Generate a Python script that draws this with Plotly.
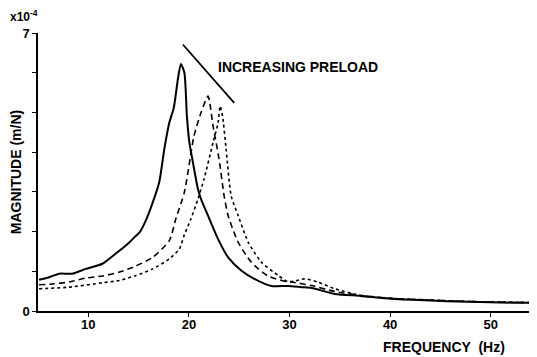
import plotly.graph_objects as go

# Frequency (Hz) and magnitude (x1e-4 m/N) for three preload levels
freq_low = [5.1, 6.1, 7.1, 8.4, 9.75, 11.4, 12.7, 13.4, 14.1, 14.6, 15.1, 15.7, 16.4, 17.05, 17.55,
            18.05, 18.5, 18.9, 19.2, 19.55, 19.8, 20.05, 20.4, 20.9, 21.2, 21.9, 22.9, 23.9, 25.2,
            26.5, 28.2, 29.85, 31.2, 32.2, 34.5, 37.1, 40.1, 43.4, 47.8, 52.1, 54.6]
mag_low = [0.785, 0.85, 0.94, 0.94, 1.06, 1.19, 1.44, 1.58, 1.73, 1.86, 1.98, 2.27, 2.73, 3.24, 4.07,
           4.74, 5.12, 5.83, 6.22, 6.0, 4.9, 4.24, 3.74, 3.07, 2.82, 2.4, 1.81, 1.35, 1.02,
           0.81, 0.63, 0.63, 0.60, 0.58, 0.43, 0.38, 0.31, 0.27, 0.23, 0.21, 0.21]

freq_mid = [5.1, 6.4, 8.1, 9.75, 11.4, 13.1, 14.7, 16.4, 18.05, 18.7, 19.55, 20.5, 21.2, 21.9, 22.4,
            23.0, 23.5, 23.9, 24.9, 26.2, 27.8, 29.5, 30.2, 32.2, 34.5, 37.1, 40.1, 43.4, 47.8, 52.1, 54.6]
mag_mid = [0.66, 0.68, 0.73, 0.83, 0.88, 0.98, 1.13, 1.35, 1.77, 2.32, 2.99, 4.4, 4.99, 5.41, 4.66,
           3.82, 2.9, 2.4, 1.73, 1.23, 0.89, 0.75, 0.73, 0.64, 0.49, 0.39, 0.32, 0.28, 0.24, 0.22, 0.21]

freq_high = [5.1, 8.1, 11.4, 13.1, 14.7, 16.4, 18.05, 19.05, 19.55, 20.2, 20.9, 21.5, 22.4, 22.9, 23.1,
             23.35, 23.7, 24.2, 24.9, 25.9, 27.2, 28.9, 29.8, 30.5, 31.5, 32.8, 34.5, 37.1, 40.1,
             43.4, 47.8, 52.1, 54.6]
mag_high = [0.56, 0.6, 0.71, 0.77, 0.89, 1.06, 1.31, 1.56, 1.92, 2.32, 2.82, 3.32, 4.24, 4.74, 5.16,
            4.9, 4.07, 2.9, 2.4, 1.73, 1.23, 0.89, 0.74, 0.75, 0.81, 0.73, 0.56, 0.39, 0.32,
            0.28, 0.24, 0.22, 0.21]

y_tickvals = [0, 1, 2, 3, 4, 5, 6, 7]
y_ticktext = ["<b>0</b>", "", "", "", "", "", "", "<b>7</b>"]
x_tickvals = [10, 20, 30, 40, 50]
x_ticktext = ["<b>10</b>", "<b>20</b>", "<b>30</b>", "<b>40</b>", "<b>50</b>"]

FONT = "Liberation Sans, Arial, sans-serif"

fig = go.Figure()
fig.add_trace(go.Scatter(x=freq_low, y=mag_low, mode="lines",
                         line=dict(color="black", width=2, shape="spline", smoothing=0.6)))
fig.add_trace(go.Scatter(x=freq_mid, y=mag_mid, mode="lines",
                         line=dict(color="black", width=1.6, dash="6px,4px", shape="spline", smoothing=0.6)))
fig.add_trace(go.Scatter(x=freq_high, y=mag_high, mode="lines",
                         line=dict(color="black", width=1.6, dash="dot", shape="spline", smoothing=0.6)))

# "Increasing preload" line and label
fig.add_shape(type="line", x0=19.4, y0=6.71, x1=24.5, y1=5.24,
              line=dict(color="black", width=1.8))
fig.add_annotation(x=22.7, y=6.15, text="<b>INCREASING PRELOAD</b>", showarrow=False,
                   xanchor="left", yanchor="middle", font=dict(size=14, color="black", family=FONT))

fig.add_annotation(xref="paper", yref="paper", x=-0.06, y=1.0, yshift=7,
                   text="<b>x10<sup>-4</sup></b>", showarrow=False,
                   xanchor="left", yanchor="bottom", font=dict(size=12, color="black", family=FONT))
fig.add_annotation(xref="paper", yref="paper", x=0.94, y=0, yshift=-36,
                   text="<b>FREQUENCY  (Hz)</b>", showarrow=False,
                   xanchor="right", yanchor="middle", font=dict(size=14, color="black", family=FONT))

fig.update_layout(
    width=529, height=349,
    margin=dict(l=30, r=0, t=25, b=46),
    paper_bgcolor="white", plot_bgcolor="white",
    showlegend=False,
    font=dict(family=FONT, color="black", size=13),
    xaxis=dict(range=[5, 54.6], tickvals=x_tickvals, ticktext=x_ticktext,
               showgrid=False, zeroline=False, showline=True, linecolor="black", linewidth=1.5,
               ticks="outside", ticklen=4, tickcolor="black", tickfont=dict(size=13),
               ticklabelstandoff=-3),
    yaxis=dict(range=[0, 7], tickvals=y_tickvals, ticktext=y_ticktext,
               showgrid=False, zeroline=False, showline=True, linecolor="black", linewidth=1.5,
               ticks="outside", ticklen=4, tickcolor="black", tickfont=dict(size=13),
               title=dict(text="<b>MAGNITUDE (m/N)</b>", font=dict(size=14), standoff=4)),
)

fig.write_html("out.html")
